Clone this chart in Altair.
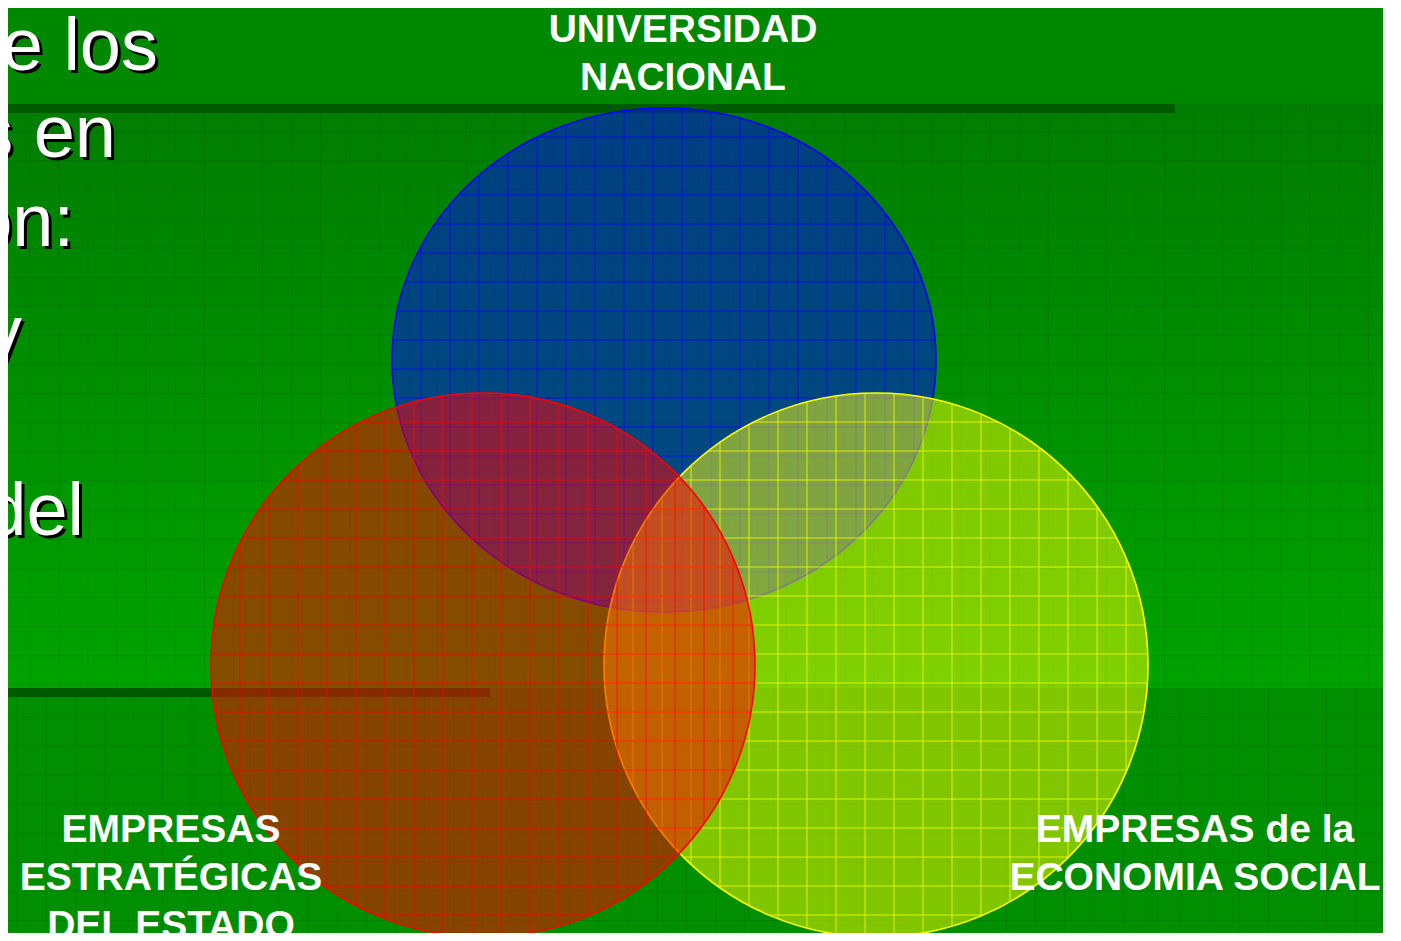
import altair as alt
import pandas as pd
import numpy as np

# visible window of the slide, in reference pixel coordinates
X0, X1 = 8, 1383
Y0, Y1 = 8, 933
W, H = X1 - X0, Y1 - Y0

# ---- data -------------------------------------------------------------
circle_name = ["UNIVERSIDAD NACIONAL", "EMPRESAS DE LA ECONOMIA SOCIAL", "EMPRESAS ESTRATÉGICAS DEL ESTADO"]
circle_cx = [664, 876, 483]
circle_cy = [360, 665, 665]
circle_rx = [272, 272, 272]
circle_ry = [252, 272, 272]
circle_color = ["#0000FF", "#FFFF00", "#FF0000"]
circle_opacity = [0.5, 0.5, 0.52]
grid_step = 29

label_lines = ["UNIVERSIDAD", "NACIONAL", "EMPRESAS", "ESTRATÉGICAS", "DEL ESTADO",
               "EMPRESAS de la", "ECONOMIA SOCIAL"]
label_x = [683, 683, 171, 171, 171, 1195, 1195]
label_y = [42, 90, 842, 890, 938, 842, 890]

body_lines = ["de los", "s en", "ón:", "y", "del"]
body_right = [158, 116, 74, 22, 84]
body_base = [70, 157, 246, 357, 535]

band_x = [0, 0, 0, 0]
band_x2 = [1383, 1383, 1175, 490]
band_y = [0, 688, 104, 688]
band_y2 = [104, 941, 113, 697]
band_color = ["#008800", "#008F00", "#005A00", "#005A00"]

grad_top, grad_bottom = "#007D00", "#00A300"

# ---- scales -----------------------------------------------------------
xs = alt.Scale(domain=[X0, X1], nice=False, zero=False)
ys = alt.Scale(domain=[Y0, Y1], nice=False, zero=False, reverse=True)


def X(f="x"):
    return alt.X(f"{f}:Q", scale=xs, axis=None)


def Y(f="y"):
    return alt.Y(f"{f}:Q", scale=ys, axis=None)


bands = pd.DataFrame({"x": band_x, "x2": band_x2, "y": band_y, "y2": band_y2, "c": band_color})

base_bands = alt.Chart(bands.iloc[:2]).mark_rect(clip=True).encode(
    x=X(), x2="x2:Q", y=Y(), y2="y2:Q", color=alt.Color("c:N", scale=None))

grad = alt.Chart(pd.DataFrame({"x": [0], "x2": [1383], "y": [104], "y2": [688]})).mark_rect(
    clip=True,
    fill=alt.LinearGradient(gradient="linear", x1=0, x2=0, y1=0, y2=1,
                            stops=[alt.GradientStop(color=grad_top, offset=0),
                                   alt.GradientStop(color=grad_bottom, offset=1)])
).encode(x=X(), x2="x2:Q", y=Y(), y2="y2:Q")

# faint background grid
rows = []
for (gx0, gy0, ya, yb) in [(0.7, 102.7, 104, 688), (17.1, 687.7, 688, 941)]:
    v = gx0
    while v < 1383:
        rows.append({"x": v, "x2": v, "y": ya, "y2": yb})
        v += 29.1
    h = gy0 + 29.1
    while h < yb:
        rows.append({"x": 0, "x2": 1383, "y": h, "y2": h})
        h += 29.1
bggrid = alt.Chart(pd.DataFrame(rows)).mark_rule(clip=True, color="#000000", opacity=0.09, strokeWidth=1).encode(
    x=X(), x2="x2:Q", y=Y(), y2="y2:Q")

dark_lines = alt.Chart(bands.iloc[2:]).mark_rect(clip=True).encode(
    x=X(), x2="x2:Q", y=Y(), y2="y2:Q", color=alt.Color("c:N", scale=None))

layers = [base_bands, grad, bggrid, dark_lines]

for i in range(3):
    cx, cy, rx, ry = circle_cx[i], circle_cy[i], circle_rx[i], circle_ry[i]
    k = ry / rx
    shape = f"M -1 0 A 1 {k:.4f} 0 1 1 1 0 A 1 {k:.4f} 0 1 1 -1 0 Z"
    cdf = pd.DataFrame({"x": [cx], "y": [cy], "s": [4 * rx * rx], "name": [circle_name[i]]})
    layers.append(alt.Chart(cdf).mark_point(
        shape=shape, filled=True, fill=circle_color[i], fillOpacity=circle_opacity[i],
        stroke=circle_color[i], strokeOpacity=1, strokeWidth=1.6, clip=True
    ).encode(x=X(), y=Y(), size=alt.Size("s:Q", scale=None)))
    # pattern grid inside the shape
    g = []
    left, top = cx - rx, cy - ry
    j = 1
    while left + j * grid_step < cx + rx:
        gx = left + j * grid_step
        half = ry * np.sqrt(max(0.0, 1 - ((gx - cx) / rx) ** 2))
        g.append({"x": gx, "x2": gx, "y": cy - half, "y2": cy + half})
        j += 1
    j = 1
    while top + j * grid_step < cy + ry:
        gy = top + j * grid_step
        half = rx * np.sqrt(max(0.0, 1 - ((gy - cy) / ry) ** 2))
        g.append({"x": cx - half, "x2": cx + half, "y": gy, "y2": gy})
        j += 1
    layers.append(alt.Chart(pd.DataFrame(g)).mark_rule(
        clip=True, color=circle_color[i], opacity=0.75, strokeWidth=1
    ).encode(x=X(), x2="x2:Q", y=Y(), y2="y2:Q"))

body = pd.DataFrame({"x": body_right, "y": body_base, "t": body_lines})
body_shadow = alt.Chart(body).mark_text(
    clip=True, align="right", baseline="alphabetic", font="Liberation Sans", fontSize=74,
    color="#000000", dx=3, dy=3
).encode(x=X(), y=Y(), text="t:N")
body_text = alt.Chart(body).mark_text(
    clip=True, align="right", baseline="alphabetic", font="Liberation Sans", fontSize=74,
    color="#FFFFFF"
).encode(x=X(), y=Y(), text="t:N")

labels = pd.DataFrame({"x": label_x, "y": label_y, "t": label_lines})
label_text = alt.Chart(labels).mark_text(
    clip=True, align="center", baseline="alphabetic", font="Liberation Sans", fontSize=39,
    fontWeight="bold", color="#FFFFFF"
).encode(x=X(), y=Y(), text="t:N")

layers += [body_shadow, body_text, label_text]

chart = alt.layer(*layers).properties(
    width=W, height=H, padding=0, autosize=alt.AutoSizeParams(type="none"), background="white"
).configure_view(stroke=None)

chart.save("out.html", embed_options={"renderer": "svg", "actions": False})
